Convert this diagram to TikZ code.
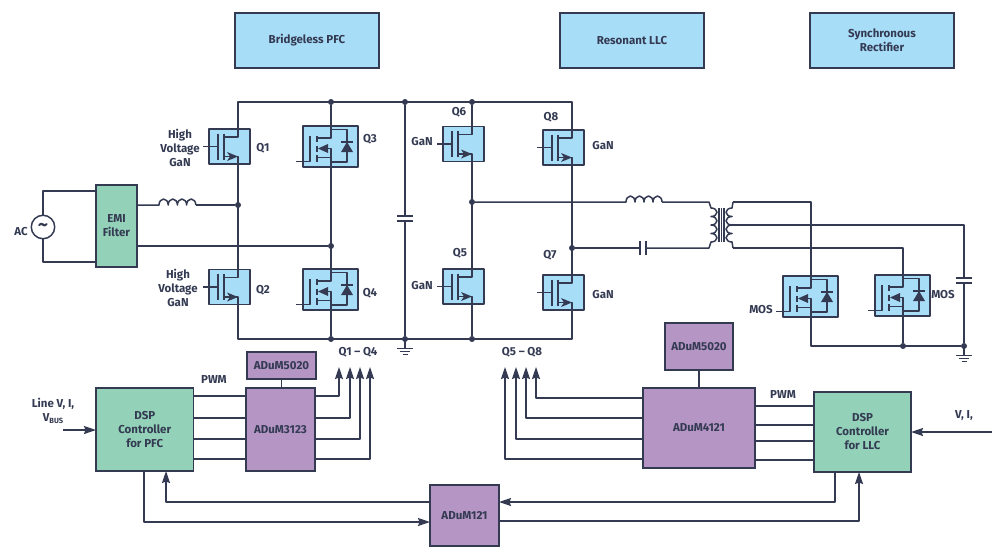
\documentclass[tikz,border=0pt]{standalone}
\usepackage{fontspec}
\setmainfont{Fira Sans}
\usetikzlibrary{arrows.meta}
\definecolor{inkc}{HTML}{333A52}
\definecolor{bluec}{HTML}{A8DDF8}
\definecolor{greenc}{HTML}{93D2B8}
\definecolor{purplec}{HTML}{B495C4}
\tikzset{
  wire/.style={draw=inkc,line width=1.5pt,line join=round},
  blk/.style={draw=inkc,line width=1.6pt,inner sep=0pt,outer sep=0pt,align=center,
    text=inkc,font=\fontsize{11.5}{14}\selectfont\bfseries},
  lbl/.style={inner sep=0pt,align=center,text=inkc,font=\fontsize{11.5}{14}\selectfont\bfseries},
  dot/.style={circle,fill=inkc,inner sep=0pt,minimum size=6pt},
  % GaN switch, origin on the drain axis at the middle of the box
  pics/ganfet/.style={code={
    \draw[wire,fill=bluec] (-29,-17.5) rectangle (12,17.5);
    \draw[wire] (-35,0) -- (-20,0);
    \draw[wire] (-20,-13) -- (-20,13);
    \draw[wire] (-14,-13) -- (-14,13);
    \draw[wire] (0,-17.5) -- (0,-9.5) -- (-14,-9.5);
    \draw[wire] (-14,10) -- (0,10) -- (0,17.5);
    \fill[inkc] (0,10) -- (-11,5.5) -- (-8,10) -- (-11,14.5) -- cycle;
  }},
  % MOS switch with body diode
  pics/mosfet/.style={code={
    \draw[wire,fill=bluec] (-28,-20.5) rectangle (27,20.5);
    \draw[wire] (-35,15) -- (-21,15) -- (-21,-10.5);
    \draw[wire] (-14,-10.5) -- (-14,-4.5);
    \draw[wire] (-14,-1) -- (-14,5);
    \draw[wire] (-14,8.5) -- (-14,15);
    \draw[wire] (0,-20.5) -- (0,-8.5) -- (-14,-8.5);
    \draw[wire] (-14,11) -- (0,11) -- (0,20.5);
    \draw[wire] (0,11) -- (0,2) -- (-6,2);
    \fill[inkc] (-13,2) -- (-3,-2.5) -- (-3,6.5) -- cycle;
    \draw[wire] (0,-17) -- (16,-17) -- (16,15.5) -- (0,15.5);
    \fill[inkc] (16,-4.5) -- (22,5.5) -- (10,5.5) -- cycle;
    \draw[wire] (10,-4.5) -- (22,-4.5);
  }},
  % earth symbol, origin on the rail
  pics/earth/.style={code={
    \draw[wire] (0,0) -- (0,9.5);
    \draw[wire] (-8,9.5) -- (8,9.5);
    \draw[wire] (-5,12.5) -- (5,12.5);
    \draw[wire] (-2.5,15.5) -- (2.5,15.5);
  }},
}

\begin{document}
\begin{tikzpicture}[x=1pt,y=-1pt,>={Stealth[length=12pt,width=8pt,inset=1.5pt]}]
\useasboundingbox (0,0) rectangle (1000,555);

%------------------------
% Stage titles
%------------------------
\node[blk,fill=bluec,minimum width=144pt,minimum height=55pt] (stagePFC) at (307,40.5) {Bridgeless PFC};
\node[blk,fill=bluec,minimum width=144pt,minimum height=55pt] (stageLLC) at (632,40.5) {Resonant LLC};
\node[blk,fill=bluec,minimum width=144pt,minimum height=55pt] (stageSR) at (882,40.5) {Synchronous\\Rectifier};

%------------------------
% Junctions
%------------------------
\node[dot] (jtopA) at (331,102) {};
\node[dot] (jtopB) at (405,102) {};
\node[dot] (jtopC) at (472,102) {};
\node[dot] (jbotA) at (331,339) {};
\node[dot] (jbotB) at (405,339) {};
\node[dot] (jbotC) at (472,339) {};
\node[dot] (jline) at (238,205) {};
\node[dot] (jneut) at (331,246) {};
\node[dot] (jhalfA) at (472,202) {};
\node[dot] (jhalfB) at (572,248) {};
\node[dot] (jsrA) at (903,346) {};
\node[dot] (jsrB) at (964,346) {};

\coordinate (railTL) at (238,102);
\coordinate (railTR) at (572,102);
\coordinate (railBL) at (238,339);
\coordinate (railBR) at (572,339);

%------------------------
% Input side
%------------------------
\node[blk,fill=greenc,minimum width=41pt,minimum height=82pt] (emi) at (116.5,226) {EMI\\Filter};
\node[draw=inkc,line width=1.5pt,circle,fill=white,inner sep=0pt,minimum size=22pt,text=inkc,
  text width=22pt,align=center,font=\fontsize{20}{20}\selectfont\bfseries] (ac) at (43,227) {\textasciitilde};
\node[lbl] (lblAC) at (21,232) {AC};

\draw[wire] (ac.north) |- (emi.west |- 0,191);
\draw[wire] (ac.south) |- (emi.west |- 0,262);

% line choke
\coordinate (chokeA) at (159,205);
\coordinate (chokeB) at (196,205);
\draw[wire] (emi.east |- jline) -- (chokeA)
  \foreach \k in {1,...,4} {arc[start angle=180,end angle=0,x radius=4.6pt,y radius=6pt]};
\draw[wire] (chokeB) -- (jline);
\draw[wire] (emi.east |- jneut) -- (jneut);

%------------------------
% Bus rails and bridge legs
%------------------------
\draw[wire] (railTL) -- (railTR) -- (railBR) -- (railBL) -- cycle;
\draw[wire] (jtopA) -- (jbotA);
\draw[wire] (jtopC) -- (jbotC);

% bus capacitor
\coordinate (capA) at (405,216);
\coordinate (capB) at (405,221);
\draw[wire] (jtopB) -- (capA);
\draw[wire] (capB) -- (jbotB);
\draw[wire] (397,216) -- (413,216);
\draw[wire] (397,221) -- (413,221);
\pic at (jbotB) {earth};

\pic (Q1) at (238,146.5) {ganfet};
\pic (Q2) at (238,287) {ganfet};
\pic (Q3) at (331,146.5) {mosfet};
\pic (Q4) at (331,289.5) {mosfet};
\pic (Q6) at (472,144) {ganfet};
\pic (Q5) at (472,286.5) {ganfet};
\pic (Q8) at (572,147.5) {ganfet};
\pic (Q7) at (572,292.5) {ganfet};

\node[lbl] (lblQ1) at (263,148) {Q1};
\node[lbl] (lblQ2) at (263,290) {Q2};
\node[lbl] (lblQ3) at (370,139) {Q3};
\node[lbl] (lblQ4) at (370,293) {Q4};
\node[lbl] (lblQ5) at (460,253) {Q5};
\node[lbl] (lblQ6) at (459,112) {Q6};
\node[lbl] (lblQ7) at (550,255) {Q7};
\node[lbl] (lblQ8) at (551,117) {Q8};
\node[lbl] (lblHVa) at (180,147.5) {High\\Voltage\\GaN};
\node[lbl] (lblHVb) at (178,287.5) {High\\Voltage\\GaN};
\node[lbl] (lblGaNa) at (422,142) {GaN};
\node[lbl] (lblGaNb) at (422,286) {GaN};
\node[lbl] (lblGaNc) at (603,146) {GaN};
\node[lbl] (lblGaNd) at (603,295) {GaN};

%------------------------
% Resonant tank and transformer
%------------------------
\coordinate (tankA) at (626,202);
\coordinate (tankB) at (662,202);
\coordinate (ccapA) at (640,248);
\coordinate (ccapB) at (646,248);
\coordinate (priTop) at (711,208);
\coordinate (priBot) at (711,242);
\coordinate (secTop) at (732,208);
\coordinate (secBot) at (732,242);

\draw[wire] (jhalfA) -- (tankA)
  \foreach \k in {1,...,4} {arc[start angle=180,end angle=0,x radius=4.5pt,y radius=6pt]};
\draw[wire] (tankB) -- (709,202) -- (priTop)
  \foreach \k in {1,...,4} {arc[start angle=90,end angle=-90,x radius=6pt,y radius=4.25pt]}
  -- (709,248) -- (ccapB);
\draw[wire] (jhalfB) -- (ccapA);
\draw[wire] (640,241) -- (640,255);
\draw[wire] (646,241) -- (646,255);
\draw[wire] (719,208) -- (719,242);
\draw[wire] (721.5,208) -- (721.5,242);
\draw[wire] (724,208) -- (724,242);
\draw[wire] (733,202) -- (secTop)
  \foreach \k in {1,...,4} {arc[start angle=90,end angle=270,x radius=6pt,y radius=4.25pt]}
  -- (733,248);

%------------------------
% Synchronous rectifier
%------------------------
\coordinate (outA) at (964,278);
\coordinate (outB) at (964,283);
\draw[wire] (733,202) -- (811,202) -- (811,346) -- (jsrB);
\draw[wire] (733,248) -- (903,248) -- (jsrA);
\draw[wire] (728,225) -- (964,225) -- (outA);
\draw[wire] (outB) -- (jsrB);
\draw[wire] (956,278) -- (972,278);
\draw[wire] (956,283) -- (972,283);
\pic at (jsrB) {earth};

\pic (SRa) at (811,296.5) {mosfet};
\pic (SRb) at (903,295.5) {mosfet};
\node[lbl] (lblMOSa) at (761,310) {MOS};
\node[lbl] (lblMOSb) at (943,295) {MOS};

%------------------------
% PFC control
%------------------------
\node[blk,fill=greenc,minimum width=97.5pt,minimum height=83pt] (dspPFC) at (144.75,429.5) {DSP\\Controller\\for PFC};
\node[blk,fill=purplec,minimum width=69pt,minimum height=83pt] (drvPFC) at (280.5,429.5) {ADuM3123};
\node[blk,fill=purplec,minimum width=69pt,minimum height=27pt] (isoPFC) at (281.5,365.5) {ADuM5020};
\draw[wire] (isoPFC.south) -- (isoPFC.south |- drvPFC.north);

\foreach \yy in {396,418,439,459}
  \draw[wire] (dspPFC.east |- 0,\yy) -- (drvPFC.west |- 0,\yy);
\foreach \yy/\xx in {396/339,418/350,439/360,459/370}
  \draw[wire,->] (drvPFC.east |- 0,\yy) -| (\xx,367);

\coordinate (inPFC) at (63,430);
\draw[wire,->] (inPFC) -- (dspPFC.west |- inPFC);
\node[lbl] (lblIn) at (53,411) {Line V, I,\\V{\raisebox{-2pt}{\fontsize{7.5}{8}\selectfont BUS}}};
\node[lbl] (lblPWMa) at (214,380) {PWM};
\node[lbl] (lblQa) at (358,352) {Q1 -- Q4};

%------------------------
% LLC control
%------------------------
\node[blk,fill=greenc,minimum width=97pt,minimum height=80pt] (dspLLC) at (862.5,432) {DSP\\Controller\\for LLC};
\node[blk,fill=purplec,minimum width=112pt,minimum height=80pt] (drvLLC) at (699,428) {ADuM4121};
\node[blk,fill=purplec,minimum width=68pt,minimum height=47pt] (isoLLC) at (699,346.5) {ADuM5020};
\draw[wire] (isoLLC.south) -- (drvLLC.north);

\foreach \yy in {406,425,441,460}
  \draw[wire] (drvLLC.east |- 0,\yy) -- (dspLLC.west |- 0,\yy);
\foreach \yy/\xx in {398/536,418/526,439/516,459/505}
  \draw[wire,->] (drvLLC.west |- 0,\yy) -| (\xx,367);

\coordinate (inLLC) at (992,432);
\draw[wire,->] (inLLC) -- (dspLLC.east |- inLLC);
\node[lbl] (lblInb) at (964,416) {V, I,};
\node[lbl] (lblPWMb) at (783,395) {PWM};
\node[lbl] (lblQb) at (522,352) {Q5 -- Q8};

%------------------------
% Link between controllers
%------------------------
\node[blk,fill=purplec,minimum width=69pt,minimum height=61pt] (link) at (464.5,515.5) {ADuM121};
\draw[wire,->] (link.west |- 0,502) -| (dspPFC.south -| 166,0);
\draw[wire,->] (dspPFC.south -| 144,0) |- (link.west |- 0,522);
\draw[wire,->] (dspLLC.south -| 835,0) |- (link.east |- 0,502);
\draw[wire,->] (link.east |- 0,521) -| (dspLLC.south -| 859,0);

\end{tikzpicture}
\end{document}
